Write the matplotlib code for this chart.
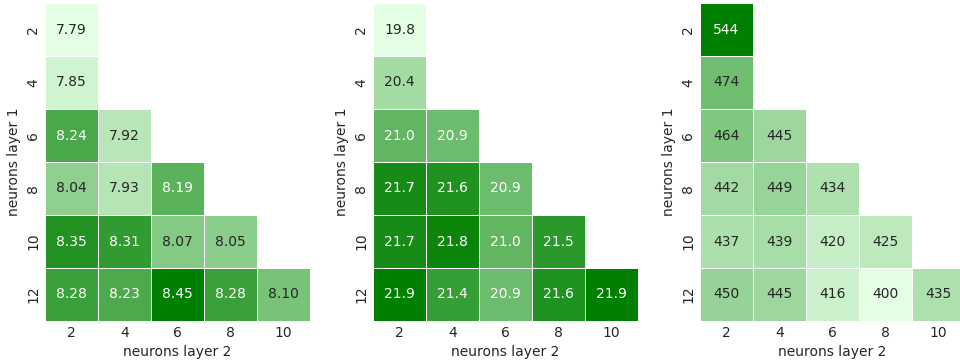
import matplotlib
matplotlib.use("Agg")
import matplotlib.pyplot as plt
from matplotlib.colors import LinearSegmentedColormap
import numpy as np
import seaborn as sns

nan = np.nan

# neuron counts of the two hidden layers
layer1 = [2, 4, 6, 8, 10, 12]
layer2 = [2, 4, 6, 8, 10]

# rows = neurons layer 1, cols = neurons layer 2 (nan = not trained)
score_a = [
    [7.79, nan, nan, nan, nan],
    [7.85, nan, nan, nan, nan],
    [8.24, 7.92, nan, nan, nan],
    [8.04, 7.93, 8.19, nan, nan],
    [8.35, 8.31, 8.07, 8.05, nan],
    [8.28, 8.23, 8.45, 8.28, 8.10],
]
score_b = [
    [19.8, nan, nan, nan, nan],
    [20.4, nan, nan, nan, nan],
    [21.0, 20.9, nan, nan, nan],
    [21.7, 21.6, 20.9, nan, nan],
    [21.7, 21.8, 21.0, 21.5, nan],
    [21.9, 21.4, 20.9, 21.6, 21.9],
]
score_c = [
    [544, nan, nan, nan, nan],
    [474, nan, nan, nan, nan],
    [464, 445, nan, nan, nan],
    [442, 449, 434, nan, nan],
    [437, 439, 420, 425, nan],
    [450, 445, 416, 400, 435],
]

sns.set_style("white")
cmap = LinearSegmentedColormap.from_list("mint_green", ["#e5ffe5", "#008000"])

fig = plt.figure(figsize=(9.6, 3.63), dpi=100)
lefts = [45 / 960, 373 / 960, 700 / 960]
w = 265 / 960
b = 42 / 363
h = 318 / 363

for left, data, fmt in zip(lefts, [score_a, score_b, score_c], [".2f", ".1f", ".0f"]):
    ax = fig.add_axes([left, b, w, h])
    arr = np.array(data, dtype=float)
    sns.heatmap(arr, ax=ax, cmap=cmap, annot=True, fmt=fmt, cbar=False,
                linewidths=0.5, linecolor="white",
                xticklabels=layer2, yticklabels=layer1,
                annot_kws={"fontsize": 10})
    ax.set_xlabel("neurons layer 2", fontsize=10)
    ax.set_ylabel("neurons layer 1", fontsize=10)
    ax.tick_params(length=0, labelsize=10)
    plt.setp(ax.get_yticklabels(), rotation=90, va="center")

fig.savefig("out.png", dpi=100)
